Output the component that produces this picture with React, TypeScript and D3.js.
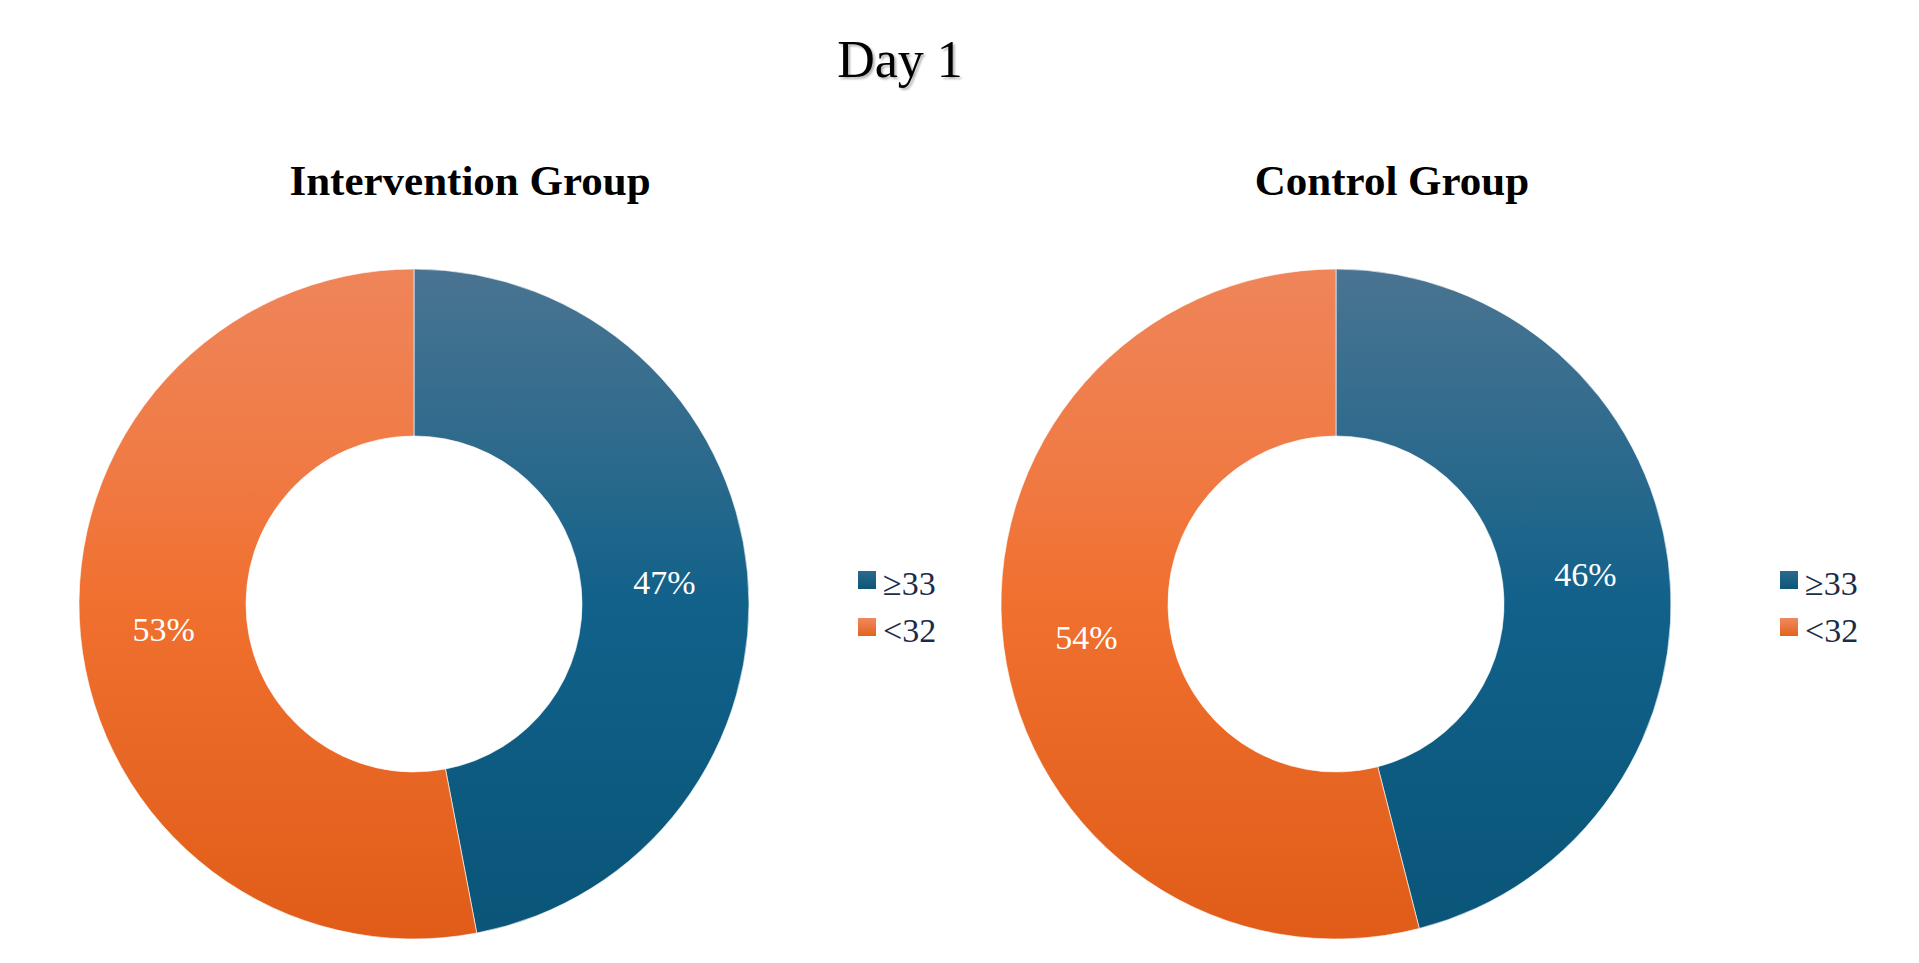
import { useMemo } from 'react';
import * as d3 from 'd3';

const TITLE = 'Day 1';
const GROUPS = ['Intervention Group', 'Control Group'];
const CATEGORIES = ['≥33', '<32'];
const INTERVENTION_PCT = [47, 53];
const CONTROL_PCT = [46, 54];

const W = 1919;
const H = 963;
const CENTERS_X = [414, 1336];
const CENTER_Y = 604;
const R_OUTER = 335;
const R_INNER = 168;
const SERIF = '"Liberation Serif", "Times New Roman", Times, serif';

// vertical gradient stops, top of the ring to the bottom
const GRADIENTS = [
  {
    id: 'grad-blue',
    stops: [
      [0, '#4a7491'],
      [0.3, '#2a698c'],
      [0.5, '#11618a'],
      [1, '#0a5578'],
    ],
    legend: ['#2c6a8c', '#0c5679'],
  },
  {
    id: 'grad-orange',
    stops: [
      [0, '#ef855a'],
      [0.3, '#f07a44'],
      [0.5, '#f0702f'],
      [1, '#e05c18'],
    ],
    legend: ['#ef8a5e', '#e3621f'],
  },
] as const;

interface Donut {
  group: string;
  values: number[];
}

export default function App() {
  const donuts: Donut[] = [
    { group: GROUPS[0], values: INTERVENTION_PCT },
    { group: GROUPS[1], values: CONTROL_PCT },
  ];

  const arcs = useMemo(() => {
    const pie = d3.pie<number>().sort(null).value((d) => d);
    const arcGen = d3.arc<d3.PieArcDatum<number>>().innerRadius(R_INNER).outerRadius(R_OUTER);
    return donuts.map((d) =>
      pie(d.values).map((a) => ({
        path: arcGen(a) ?? '',
        centroid: arcGen.centroid(a),
        value: a.data,
        index: a.index,
      }))
    );
  }, []);

  return (
    <svg
      width={W}
      height={H}
      viewBox={`0 0 ${W} ${H}`}
      style={{ position: 'absolute', left: 0, top: 0, background: '#fff' }}
    >
      <defs>
        <filter id="title-shadow" x="-10%" y="-10%" width="130%" height="140%">
          <feDropShadow dx={2} dy={2} stdDeviation={1.2} floodColor="#000" floodOpacity={0.3} />
        </filter>
        {GRADIENTS.map((g) => (
          <linearGradient
            key={g.id}
            id={g.id}
            gradientUnits="userSpaceOnUse"
            x1={0} y1={-R_OUTER} x2={0} y2={R_OUTER}
          >
            {g.stops.map(([o, c]) => (
              <stop key={o} offset={`${o * 100}%`} stopColor={c} />
            ))}
          </linearGradient>
        ))}
        {GRADIENTS.map((g) => (
          <linearGradient key={g.id + '-leg'} id={g.id + '-leg'} x1="0" y1="0" x2="0" y2="1">
            <stop offset="0%" stopColor={g.legend[0]} />
            <stop offset="100%" stopColor={g.legend[1]} />
          </linearGradient>
        ))}
      </defs>

      {/* Main title */}
      <text
        x={900}
        y={77}
        textAnchor="middle"
        fontFamily={SERIF}
        fontSize={52}
        fill="#000"
        filter="url(#title-shadow)"
      >
        {TITLE}
      </text>

      {donuts.map((d, gi) => (
        <g key={d.group}>
          {/* Group title */}
          <text
            x={CENTERS_X[gi] + 56}
            y={195}
            textAnchor="middle"
            fontFamily={SERIF}
            fontWeight="bold"
            fontSize={43}
            fill="#000"
          >
            {d.group}
          </text>

          {/* Donut */}
          <g transform={`translate(${CENTERS_X[gi]},${CENTER_Y})`}>
            {arcs[gi].map((a) => (
              <path
                key={a.index}
                d={a.path}
                fill={`url(#${GRADIENTS[a.index].id})`}
                stroke="#ffffff"
                strokeWidth={1}
                strokeOpacity={0.6}
              />
            ))}
            {arcs[gi].map((a) => (
              <text
                key={'l' + a.index}
                x={a.centroid[0]}
                y={a.centroid[1] + 2}
                textAnchor="middle"
                dominantBaseline="central"
                fontFamily={SERIF}
                fontSize={34}
                fill="#ffffff"
              >
                {a.value}%
              </text>
            ))}
          </g>

          {/* Legend */}
          <g transform={`translate(${CENTERS_X[gi] + 444},571)`}>
            {CATEGORIES.map((c, ci) => (
              <g key={c} transform={`translate(0,${ci * 47})`}>
                <rect width={18} height={18} fill={`url(#${GRADIENTS[ci].id}-leg)`} />
                <text x={25} y={24} fontFamily={SERIF} fontSize={34} fill="#1b2c48">
                  {c}
                </text>
              </g>
            ))}
          </g>
        </g>
      ))}
    </svg>
  );
}
